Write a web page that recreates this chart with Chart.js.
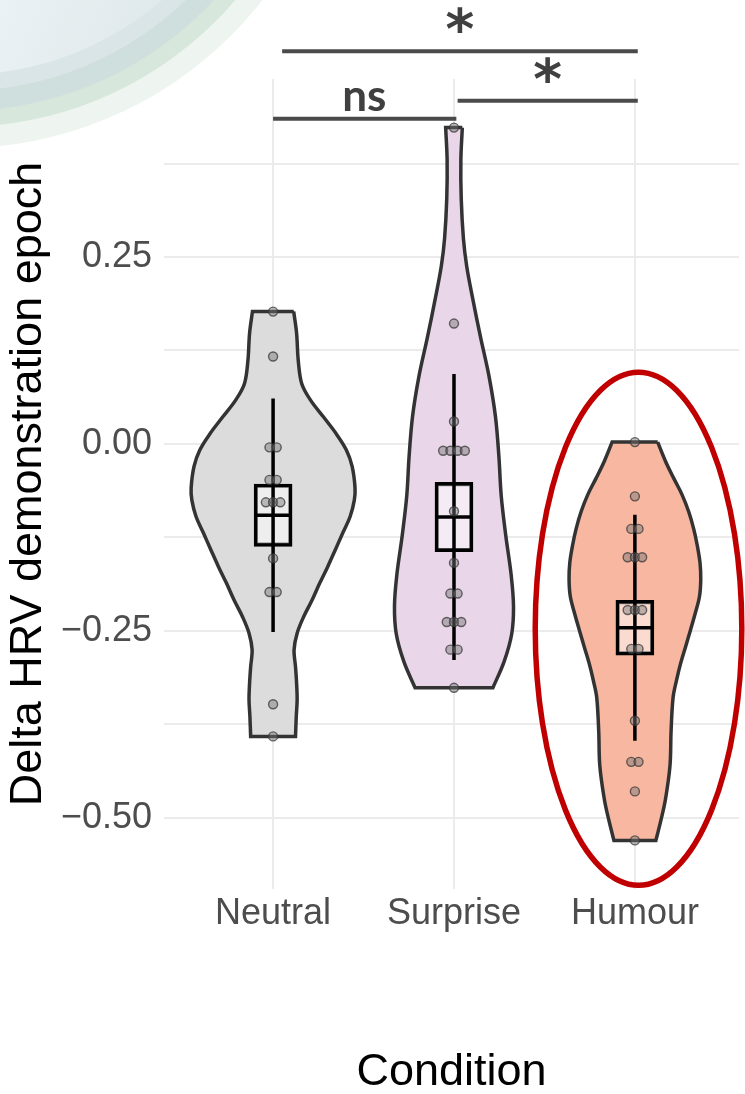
<!DOCTYPE html>
<html>
<head>
<meta charset="utf-8">
<title>Delta HRV demonstration epoch</title>
<script src="https://cdn.jsdelivr.net/npm/chart.js@4.4.1/dist/chart.umd.min.js"></script>
<style>
  html, body { margin: 0; padding: 0; background: #fff; }
  canvas { display: block; }
</style>
</head>
<body>
<canvas id="violinChart" width="745" height="1094"></canvas>
<script>
// ======= data =======
const categories = ['Neutral', 'Surprise', 'Humour']

// individual participants (delta HRV)
const neutralValues = [0.177, 0.117, -0.0045, -0.0045, -0.048, -0.048, -0.078, -0.078, -0.078,
  -0.153, -0.198, -0.198, -0.348, -0.391]
const surpriseValues = [0.423, 0.161, 0.030, -0.009, -0.009, -0.009, -0.009, -0.090, -0.159,
  -0.200, -0.200, -0.238, -0.238, -0.238, -0.275, -0.275, -0.326]
const humourValues = [0.0025, -0.070, -0.1135, -0.1135, -0.1515, -0.1515, -0.1515, -0.222, -0.222,
  -0.222, -0.274, -0.274, -0.370, -0.425, -0.425, -0.4645, -0.530]

// violin outlines : level (y) and half width (in category units)
const neutralLevels = [0.177, 0.148, 0.112, 0.081, 0.059, 0.036, 0.014, -0.008, -0.030, -0.059, -0.075,
  -0.097, -0.119, -0.142, -0.164, -0.186, -0.209, -0.231, -0.253, -0.275, -0.298, -0.320, -0.342, -0.365, -0.391]
const neutralWidths = [0.114, 0.130, 0.139, 0.158, 0.206, 0.279, 0.348, 0.405, 0.437, 0.453, 0.449,
  0.426, 0.385, 0.343, 0.302, 0.258, 0.215, 0.169, 0.133, 0.116, 0.124, 0.130, 0.133, 0.128, 0.124]

const surpriseLevels = [0.423, 0.380, 0.328, 0.275, 0.238, 0.195, 0.1425, 0.090, 0.037, -0.016, -0.069,
  -0.122, -0.175, -0.217, -0.254, -0.291, -0.326]
const surpriseWidths = [0.046, 0.038, 0.040, 0.052, 0.070, 0.103, 0.147, 0.194, 0.229, 0.248, 0.261,
  0.286, 0.316, 0.329, 0.319, 0.277, 0.215]

const humourLevels = [0.0025, -0.023, -0.046, -0.068, -0.091, -0.1135, -0.136, -0.159, -0.181, -0.204, -0.226,
  -0.249, -0.272, -0.294, -0.317, -0.339, -0.384, -0.430, -0.475, -0.502, -0.530]
const humourWidths = [0.126, 0.169, 0.215, 0.261, 0.298, 0.325, 0.345, 0.360, 0.364, 0.357, 0.334,
  0.307, 0.279, 0.252, 0.229, 0.211, 0.200, 0.194, 0.169, 0.145, 0.116]

// y axis
const yTickValues = [-0.5, -0.25, 0, 0.25]
const yTickLabels = ['\u22120.50', '\u22120.25', '0.00', '0.25']
const yMinorTicks = [-0.375, -0.125, 0.125, 0.375]

// significance brackets
const bracketStart = [1.0, 2.02, 1.05]
const bracketEnd = [2.013, 3.016, 3.016]
const bracketLevel = [0.435, 0.459, 0.525]
const bracketLabel = ['ns', '*', '*']

// ======= styles =======
const violinColors = ['#dcdcdc', '#e9d7e9', '#f7b7a1']
const boxHalf = 0.1
const jitterStep = 0.04

const groups = [
  { values: neutralValues, levels: neutralLevels, widths: neutralWidths },
  { values: surpriseValues, levels: surpriseLevels, widths: surpriseWidths },
  { values: humourValues, levels: humourLevels, widths: humourWidths }
]

function summary (values) {
  const n = values.length
  const mean = values.reduce((a, b) => a + b, 0) / n
  const sd = Math.sqrt(values.reduce((a, v) => a + (v - mean) ** 2, 0) / (n - 1))
  return { mean, sd, se: sd / Math.sqrt(n) }
}

// closed outline, the trimmed ends are doubled so the spline keeps its corners
function violinOutline (center, levels, widths) {
  const right = levels.map((y, i) => ({ x: center + widths[i], y }))
  const left = levels.map((y, i) => ({ x: center - widths[i], y })).reverse()
  const last = right.length - 1
  return [
    { ...right[0] }, ...right, { ...right[last] },
    { ...left[0] }, ...left, { ...left[last] },
    { ...right[0] }
  ]
}

// identical values are spread side by side like in the figure
function pointsFor (values, center) {
  const counts = {}
  values.forEach(v => { counts[v] = (counts[v] || 0) + 1 })
  const seen = {}
  return values.map(v => {
    seen[v] = seen[v] === undefined ? 0 : seen[v] + 1
    return { x: center + (seen[v] - (counts[v] - 1) / 2) * jitterStep, y: v }
  })
}

const datasets = []
const boxData = []

groups.forEach((g, i) => {
  const c = i + 1
  const s = summary(g.values)

  datasets.push({
    type: 'scatter',
    data: violinOutline(c, g.levels, g.widths),
    showLine: true,
    fill: 'shape',
    tension: 0.35,
    backgroundColor: violinColors[i],
    borderColor: '#333333',
    borderWidth: 3.5,
    pointRadius: 0,
    order: 4
  })

  boxData.push({ x: c, y: [s.mean - s.se, s.mean + s.se] })

  // whisker : mean +/- sd
  datasets.push({
    type: 'scatter',
    data: [{ x: c, y: s.mean + s.sd }, { x: c, y: s.mean - s.sd }],
    showLine: true,
    borderColor: '#000',
    borderWidth: 3.5,
    pointRadius: 0,
    order: 2
  })
  // mean line
  datasets.push({
    type: 'scatter',
    data: [{ x: c - boxHalf, y: s.mean }, { x: c + boxHalf, y: s.mean }],
    showLine: true,
    borderColor: '#000',
    borderWidth: 3.5,
    pointRadius: 0,
    order: 2
  })
  // participants
  datasets.push({
    type: 'scatter',
    data: pointsFor(g.values, c),
    pointRadius: 4.5,
    pointBackgroundColor: 'rgba(115, 115, 115, 0.45)',
    pointBorderColor: 'rgba(55, 55, 55, 0.75)',
    pointBorderWidth: 1.4,
    order: 1
  })
})

// box : mean +/- se
datasets.push({
  type: 'bar',
  data: boxData,
  barThickness: 38,
  backgroundColor: 'rgba(255, 255, 255, 0.5)',
  borderColor: '#000',
  borderWidth: 3.5,
  borderSkipped: false,
  order: 3
})

// ======= plugins =======
const backdrop = {
  id: 'backdrop',
  beforeDraw (chart) {
    const ctx = chart.ctx
    ctx.save()
    ctx.fillStyle = '#fff'
    ctx.fillRect(0, 0, chart.width, chart.height)
    // slide decoration in the top left corner
    const bands = [
      { r: 383, color: '#eef4ef' },
      { r: 362, color: '#d7e7db' },
      { r: 346, color: '#cfdfdd' },
      { r: 326, color: '#dae5e7' }
    ]
    bands.forEach(b => {
      ctx.beginPath()
      ctx.arc(-40, -235, b.r, 0, Math.PI * 2)
      ctx.fillStyle = b.color
      ctx.fill()
    })
    const grad = ctx.createLinearGradient(0, 0, 200, 90)
    grad.addColorStop(0, 'rgba(236, 242, 245, 0.95)')
    grad.addColorStop(1, 'rgba(236, 242, 245, 0)')
    ctx.beginPath()
    ctx.arc(-40, -235, 310, 0, Math.PI * 2)
    ctx.fillStyle = grad
    ctx.fill()
    ctx.restore()
  }
}

const highlight = {
  id: 'highlight',
  afterDatasetsDraw (chart, args, opts) {
    const { ctx, scales: { x, y } } = chart
    const cx = x.getPixelForValue(opts.x)
    const cy = y.getPixelForValue(opts.y)
    const rx = Math.abs(x.getPixelForValue(opts.x + opts.rx) - cx)
    const ry = Math.abs(y.getPixelForValue(opts.y + opts.ry) - cy)
    ctx.save()
    ctx.beginPath()
    ctx.ellipse(cx, cy, rx, ry, 0, 0, Math.PI * 2)
    ctx.strokeStyle = opts.color
    ctx.lineWidth = opts.width
    ctx.stroke()
    ctx.restore()
  }
}

const brackets = {
  id: 'brackets',
  afterDraw (chart, args, opts) {
    const { ctx, scales: { x, y } } = chart
    ctx.save()
    bracketLabel.forEach((label, i) => {
      const x0 = x.getPixelForValue(bracketStart[i])
      const x1 = x.getPixelForValue(bracketEnd[i])
      const yy = y.getPixelForValue(bracketLevel[i])
      ctx.beginPath()
      ctx.moveTo(x0, yy)
      ctx.lineTo(x1, yy)
      ctx.strokeStyle = opts.color
      ctx.lineWidth = 4
      ctx.stroke()

      ctx.font = label === 'ns' ? opts.textFont : opts.starFont
      ctx.fillStyle = opts.textColor
      ctx.textAlign = 'left'
      ctx.textBaseline = 'alphabetic'
      const m = ctx.measureText(label)
      const inkW = m.actualBoundingBoxLeft + m.actualBoundingBoxRight
      const gap = label === 'ns' ? 8 : 18
      const tx = (x0 + x1) / 2 - inkW / 2 + m.actualBoundingBoxLeft
      const ty = yy - gap - m.actualBoundingBoxDescent
      ctx.fillText(label, tx, ty)
    })
    ctx.restore()
  }
}

// ======= chart =======
Chart.defaults.font.family = "'Liberation Sans', Arial, sans-serif"

const ctx = document.getElementById('violinChart')
new Chart(ctx.getContext('2d'), {
  type: 'scatter',
  data: { datasets },
  plugins: [backdrop, highlight, brackets],
  options: {
    responsive: false,
    animation: false,
    events: [],
    layout: { padding: { top: 79, left: 0, right: 0, bottom: 0 } },
    plugins: {
      legend: { display: false },
      tooltip: { enabled: false },
      highlight: { x: 3.02, y: -0.247, rx: 0.571, ry: 0.343, color: '#c00000', width: 5.5 },
      brackets: {
        color: '#4a4a4a',
        textColor: '#404040',
        textFont: "bold 44px Lato, 'Open Sans', sans-serif",
        starFont: "bold 55px 'DejaVu Sans', sans-serif"
      }
    },
    scales: {
      x: {
        type: 'linear',
        min: 0.397,
        max: 3.576,
        offset: false,
        afterBuildTicks: s => { s.ticks = categories.map((_, i) => ({ value: i + 1 })) },
        afterFit: s => { s.height = 205 },
        grid: { color: '#ebebeb', lineWidth: 2, drawTicks: false, offset: false },
        border: { display: false },
        ticks: {
          callback: v => categories[v - 1],
          font: { size: 36 },
          color: '#4d4d4d',
          padding: 3,
          maxRotation: 0,
          autoSkip: false
        },
        title: {
          display: true,
          text: 'Condition',
          font: { size: 45, lineHeight: 0.93 },
          color: '#000',
          padding: 0
        }
      },
      y: {
        type: 'linear',
        min: -0.595,
        max: 0.488,
        afterBuildTicks: s => {
          s.ticks = [...yMinorTicks, ...yTickValues].sort((a, b) => a - b).map(v => ({ value: v }))
        },
        afterFit: s => { s.width = 164 },
        grid: { color: '#ebebeb', lineWidth: 2, drawTicks: false },
        border: { display: false },
        ticks: {
          callback: v => {
            const k = yTickValues.indexOf(v)
            return k >= 0 ? yTickLabels[k] : ''
          },
          font: { size: 36 },
          color: '#4d4d4d',
          padding: 12,
          autoSkip: false
        },
        title: {
          display: true,
          text: 'Delta HRV demonstration epoch',
          font: { size: 45 },
          color: '#000',
          padding: { top: 2, bottom: 0 }
        }
      }
    }
  }
})
</script>
</body>
</html>
